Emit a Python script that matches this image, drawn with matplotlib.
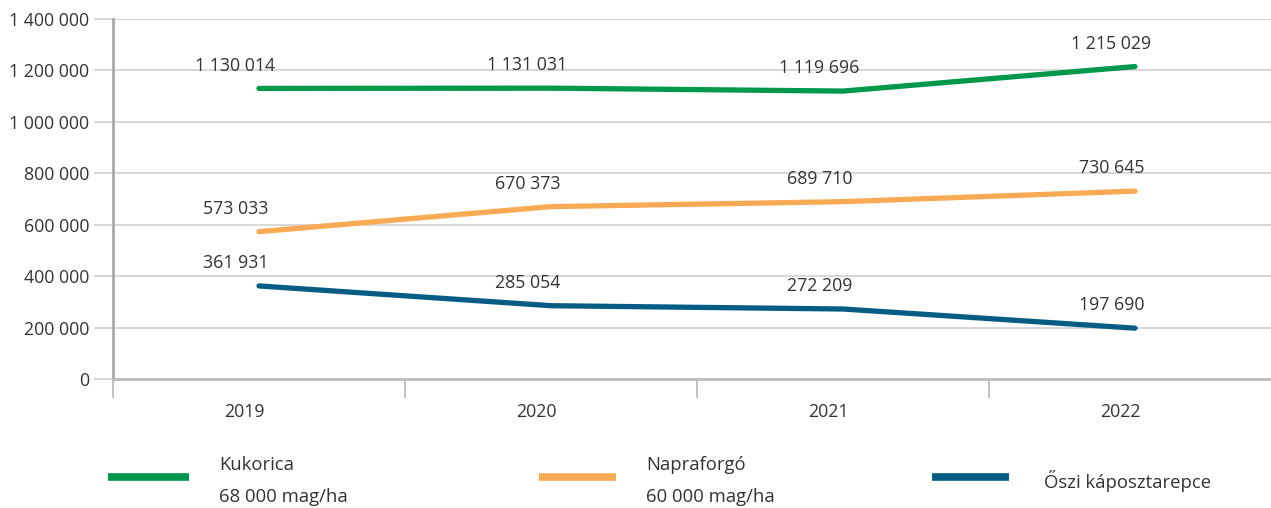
import matplotlib.pyplot as plt
from matplotlib.lines import Line2D
from matplotlib.ticker import FuncFormatter
from matplotlib.transforms import ScaledTranslation

plt.rcParams['font.family'] = ['Open Sans', 'DejaVu Sans']

years = ["2019", "2020", "2021", "2022"]
kukorica = [1130014, 1131031, 1119696, 1215029]
napraforgo = [573033, 670373, 689710, 730645]
repce = [361931, 285054, 272209, 197690]

series_names = ["Kukorica\n68 000 mag/ha", "Napraforgó\n60 000 mag/ha", "Őszi káposztarepce"]
colors = ["#00984A", "#F9AA55", "#075C84"]


def fmt_hu(v):
    return f"{int(v):,}".replace(",", " ")


fig = plt.figure(figsize=(12.71, 5.08), dpi=100)
ax = fig.add_axes([113 / 1271, 129 / 508, 1168 / 1271, 360 / 508])

x = list(range(len(years)))
for vals, c in zip([kukorica, napraforgo, repce], colors):
    ax.plot(x, vals, color=c, lw=3.8, solid_capstyle="round", zorder=3)
    for xi, v in zip(x, vals):
        ax.annotate(fmt_hu(v), (xi, v), xytext=(-17, 16.5), textcoords="offset points",
                    ha="center", va="center", fontsize=12.8, color="#333333")

ax.set_xlim(-0.5, 3.5)
ax.set_ylim(0, 1400000)
ax.set_yticks(range(0, 1400001, 200000))
ax.yaxis.set_major_formatter(FuncFormatter(lambda v, p: fmt_hu(v)))
ax.grid(axis="y", color="#D4D4D4", lw=1.3)
ax.set_axisbelow(True)

ax.set_xticks(x)
ax.set_xticklabels(years)
ax.set_xticks([-0.5, 0.5, 1.5, 2.5, 3.5], minor=True)
ax.tick_params(axis="x", which="major", length=0, pad=17, labelsize=12.8, labelcolor="#333333")
ax.tick_params(axis="x", which="minor", length=14, width=1.3, color="#BDBDBD")
ax.tick_params(axis="y", length=14, width=1.3, color="#D4D4D4", pad=3, labelsize=12.8,
               labelcolor="#333333")
shift = ScaledTranslation(-15 / 100, 0, fig.dpi_scale_trans)
for lab in ax.get_xticklabels():
    lab.set_transform(lab.get_transform() + shift)

for s in ["top", "right"]:
    ax.spines[s].set_visible(False)
ax.spines["left"].set_color("#AAAAAA")
ax.spines["left"].set_linewidth(2)
ax.spines["bottom"].set_color("#BDBDBD")
ax.spines["bottom"].set_linewidth(2)

# legend drawn by hand to follow the original layout
leg_x = [(108, 189, 219), (539, 616, 646), (932, 1009, 1044)]
W, H = 1271, 508
for (x0, x1, tx), name, c in zip(leg_x, series_names, colors):
    fig.add_artist(Line2D([x0 / W, x1 / W], [1 - 477 / H, 1 - 477 / H], color=c, lw=5.5,
                          solid_capstyle="butt"))
    lines = name.split("\n")
    if len(lines) == 2:
        fig.text(tx / W, 1 - 465 / H, lines[0], ha="left", va="center", fontsize=13.3, color="#333333")
        fig.text(tx / W, 1 - 497 / H, lines[1], ha="left", va="center", fontsize=13.3, color="#333333")
    else:
        fig.text(tx / W, 1 - 481 / H, lines[0], ha="left", va="center", fontsize=13.3, color="#333333")

fig.savefig("out.png", dpi=100)
